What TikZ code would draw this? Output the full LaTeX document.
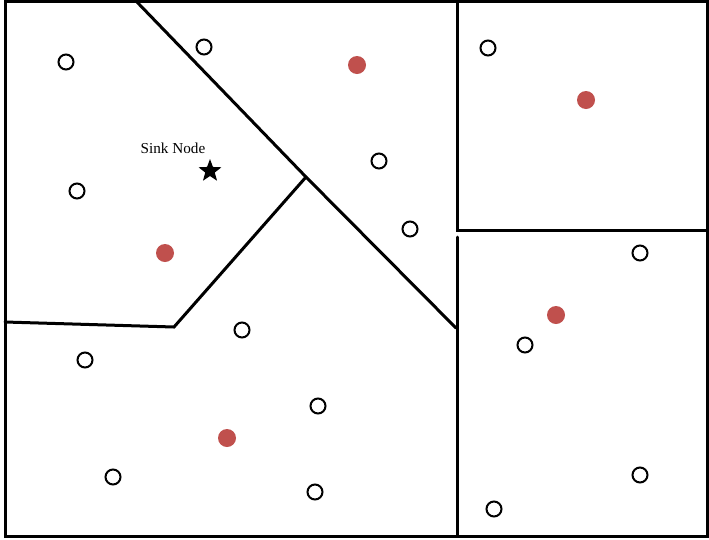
\documentclass[tikz,border=0pt]{standalone}
\usepackage{fontspec}
\setmainfont{Liberation Serif}
\usetikzlibrary{shapes.geometric}
\definecolor{headred}{HTML}{C0504D}
\begin{document}
\begin{tikzpicture}[x=1pt,y=-1pt,
  wall/.style={line width=3pt,line cap=round, line join=miter},
  sensor/.style={circle,draw=black,line width=2pt,fill=white,minimum size=15pt,inner sep=0pt},
  head/.style={circle,fill=headred,minimum size=18pt,inner sep=0pt},
  sink/.style={star,star points=5,star point ratio=2.4,fill=black,minimum size=24pt,inner sep=0pt}]
\useasboundingbox (0,0) rectangle (709,539);
\fill[white] (0,0) rectangle (709,539);
% frame
\draw[line width=3pt] (5.5,1.5) rectangle (707.5,536.5);
% partition coordinates
\coordinate (t1) at (136,1);
\coordinate (j1) at (306,177);
\coordinate (j2) at (456,328);
\coordinate (j3) at (174,327);
\coordinate (l1) at (5,322);
\coordinate (v1) at (457,1);
\coordinate (v2) at (457,230);
\coordinate (r1) at (707,230);
\coordinate (v3) at (457,237);
\coordinate (b1) at (457,536);
\draw[wall] (t1) -- (j1) -- (j2);
\draw[wall] (j1) -- (j3) -- (l1);
\draw[wall] (v1) -- (v2) -- (r1);
\draw[wall] (v3) -- (b1);
% sensors
\foreach \n/\x/\y in {s1/66/62, s2/204/47, s3/77/191, s4/379/161, s5/410/229, s6/488/48,
  s7/640/253, s8/525/345, s9/242/330, s10/85/360, s11/318/406, s12/113/477, s13/315/492,
  s14/640/475, s15/494/509}
  \node[sensor] (\n) at (\x,\y) {};
% cluster heads
\foreach \n/\x/\y in {h1/357/65, h2/586/100, h3/165/253, h4/556/315, h5/227/438}
  \node[head] (\n) at (\x,\y) {};
% sink
\node[sink] (sink) at (210,171) {};
\node[font=\fontsize{15.2}{17}\selectfont,inner sep=0pt] (sinklabel) at (173,148) {Sink Node};
\end{tikzpicture}
\end{document}
